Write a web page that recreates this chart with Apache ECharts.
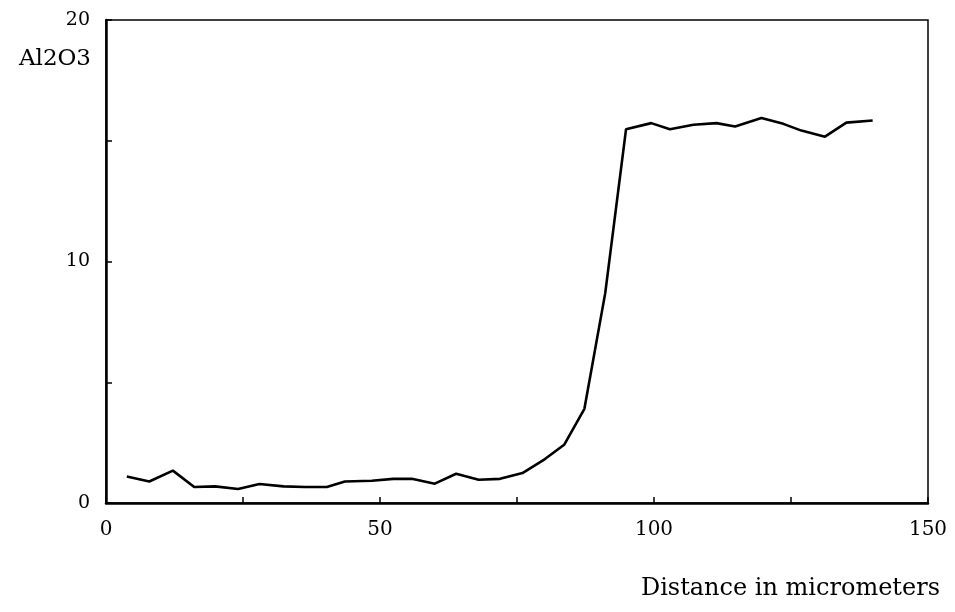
<!DOCTYPE html>
<html>
<head>
<meta charset="utf-8">
<script src="https://cdn.jsdelivr.net/npm/echarts@6/dist/echarts.min.js"></script>
<style>html,body{margin:0;padding:0;background:#fff;}#c{width:955px;height:612px;}</style>
</head>
<body>
<div id="c"></div>
<script>
const distance = [3.8, 7.9, 12.2, 16.1, 19.9, 24.1, 28, 32.4, 36.3, 40.3, 43.6, 48.5, 52.4, 55.8, 60, 63.9, 68, 71.9, 76, 80.1, 83.6, 87.3, 91.1, 94.9, 99.5, 102.9, 107.2, 111.4, 114.8, 119.6, 123.6, 126.9, 131.2, 135.1, 139.9];
const al2o3 = [1.10, 0.89, 1.34, 0.66, 0.69, 0.58, 0.79, 0.69, 0.66, 0.66, 0.89, 0.92, 1.0, 1.0, 0.80, 1.21, 0.96, 1.0, 1.24, 1.82, 2.41, 3.9, 8.69, 15.48, 15.73, 15.48, 15.66, 15.73, 15.59, 15.94, 15.7, 15.42, 15.17, 15.75, 15.84];
const xLabels = [0, 50, 100, 150];
const yLabels = [0, 10, 20];
const yName = 'Al2O3';
const xName = 'Distance in micrometers';

const chart = echarts.init(document.getElementById('c'));
const font = '"DejaVu Serif", "Liberation Serif", serif';
chart.setOption({
  animation: false,
  backgroundColor: '#fff',
  grid: { left: 106, right: 27, top: 20, bottom: 109, show: true, borderColor: '#000', borderWidth: 1.5 },
  xAxis: {
    type: 'value', min: 0, max: 150, interval: 25,
    axisLine: { show: true, lineStyle: { color: '#000', width: 2.5 } },
    axisTick: { show: true, inside: true, length: 6, lineStyle: { color: '#000', width: 1.5 } },
    splitLine: { show: false },
    axisLabel: {
      color: '#000', fontFamily: font, fontSize: 20, margin: 17,
      formatter: v => xLabels.includes(v) ? String(v) : ''
    }
  },
  yAxis: {
    type: 'value', min: 0, max: 20, interval: 5,
    axisLine: { show: true, lineStyle: { color: '#000', width: 2.5 } },
    axisTick: { show: true, inside: true, length: 6, lineStyle: { color: '#000', width: 1.5 } },
    splitLine: { show: false },
    axisLabel: {
      color: '#000', fontFamily: font, fontSize: 19, margin: 16,
      formatter: v => yLabels.includes(v) ? String(v) : ''
    }
  },
  graphic: [
    { type: 'text', x: 91, y: 59, style: { text: yName, fill: '#000', font: '23px ' + font, textAlign: 'right', textVerticalAlign: 'middle' } },
    { type: 'text', x: 940, y: 589, style: { text: xName, fill: '#000', font: '24px ' + font, textAlign: 'right', textVerticalAlign: 'middle' } }
  ],
  series: [{
    type: 'line',
    data: distance.map((d, i) => [d, al2o3[i]]),
    showSymbol: false,
    lineStyle: { color: '#000', width: 2.6 },
    smooth: false
  }]
});
</script>
</body>
</html>
